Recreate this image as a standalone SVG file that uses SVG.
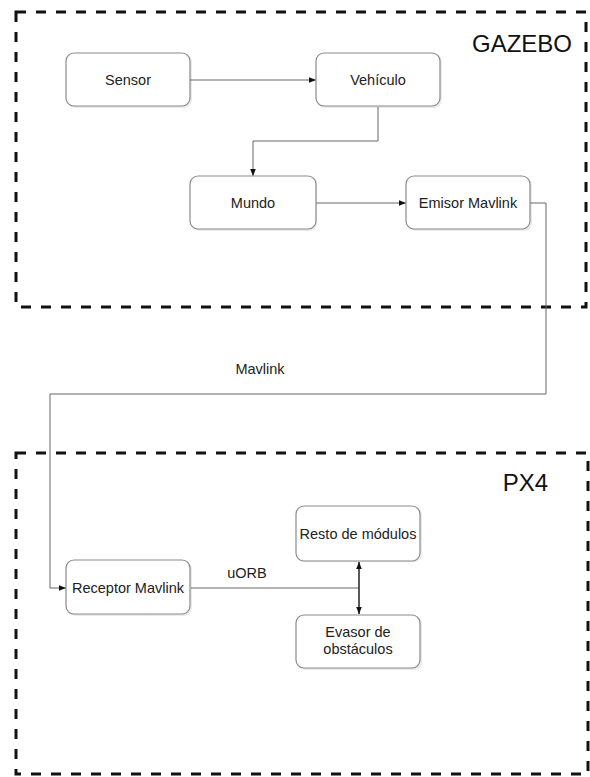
<svg xmlns="http://www.w3.org/2000/svg" width="590" height="777" viewBox="0 0 590 777">
<defs>
<style>
.grp{fill:none;stroke:#111;stroke-width:3;stroke-dasharray:10 10}
.box{fill:#fff;stroke:#8a8a8a;stroke-width:1.2}
.sh{fill:#000;opacity:0.08}
.t{font-family:"Liberation Sans",Arial,sans-serif;font-size:14.5px;fill:#222;text-anchor:middle}
.big{font-family:"Liberation Sans",Arial,sans-serif;font-size:24px;fill:#111;text-anchor:end}
.c{fill:none;stroke:#666;stroke-width:1}
.d{fill:none;stroke:#222;stroke-width:1.5}
</style>
<marker id="ah" viewBox="0 0 10 10" refX="10" refY="5" markerWidth="7" markerHeight="7" orient="auto-start-reverse" markerUnits="userSpaceOnUse">
<path d="M0,1 L10,5 L0,9 Z" fill="#111"/>
</marker>
</defs>
<rect width="590" height="777" fill="#fff"/>
<g id="gazebo">
<rect class="grp" x="16" y="12" width="570" height="295"/>
<text class="big" x="572" y="52">GAZEBO</text>
</g>
<g id="px4">
<rect class="grp" x="16" y="453" width="572" height="321"/>
<text class="big" x="548" y="491">PX4</text>
</g>
<g id="connectors">
<path class="c" d="M190,80 H316" marker-end="url(#ah)"/>
<path class="c" d="M378,107 V141 H253 V176" marker-end="url(#ah)"/>
<path class="c" d="M316,203 H406" marker-end="url(#ah)"/>
<path class="c" d="M530,203 H546 V394 H50 V588 H66" marker-end="url(#ah)"/>
<path class="c" d="M191,588 H359"/>
<path class="d" d="M359,562 V614" marker-start="url(#ah)" marker-end="url(#ah)"/>
<text class="t" x="260" y="374">Mavlink</text>
<text class="t" x="247" y="578">uORB</text>
</g>
<g id="sensor">
<rect class="sh" x="67" y="54" width="125" height="54" rx="8"/>
<rect class="box" x="66" y="53" width="124" height="53" rx="8"/>
<text class="t" x="128" y="85">Sensor</text>
</g>
<g id="vehiculo">
<rect class="sh" x="317" y="54" width="125" height="54" rx="8"/>
<rect class="box" x="316" y="53" width="124" height="53" rx="8"/>
<text class="t" x="378" y="85">Vehículo</text>
</g>
<g id="mundo">
<rect class="sh" x="191" y="177" width="126" height="54" rx="8"/>
<rect class="box" x="190" y="176" width="126" height="53" rx="8"/>
<text class="t" x="253" y="208">Mundo</text>
</g>
<g id="emisor">
<rect class="sh" x="407" y="177" width="125" height="54" rx="8"/>
<rect class="box" x="406" y="176" width="124" height="53" rx="8"/>
<text class="t" x="468" y="208">Emisor Mavlink</text>
</g>
<g id="receptor">
<rect class="sh" x="67" y="561" width="125" height="55" rx="8"/>
<rect class="box" x="66" y="560" width="124" height="54" rx="8"/>
<text class="t" x="128" y="593">Receptor Mavlink</text>
</g>
<g id="resto">
<rect class="sh" x="297" y="507" width="125" height="55" rx="8"/>
<rect class="box" x="296" y="506" width="124" height="55" rx="8"/>
<text class="t" x="358" y="539">Resto de módulos</text>
</g>
<g id="evasor">
<rect class="sh" x="297" y="616" width="125" height="54" rx="8"/>
<rect class="box" x="296" y="615" width="124" height="53" rx="8"/>
<text class="t" x="358" y="637">Evasor de</text>
<text class="t" x="358" y="654">obstáculos</text>
</g>
</svg>
